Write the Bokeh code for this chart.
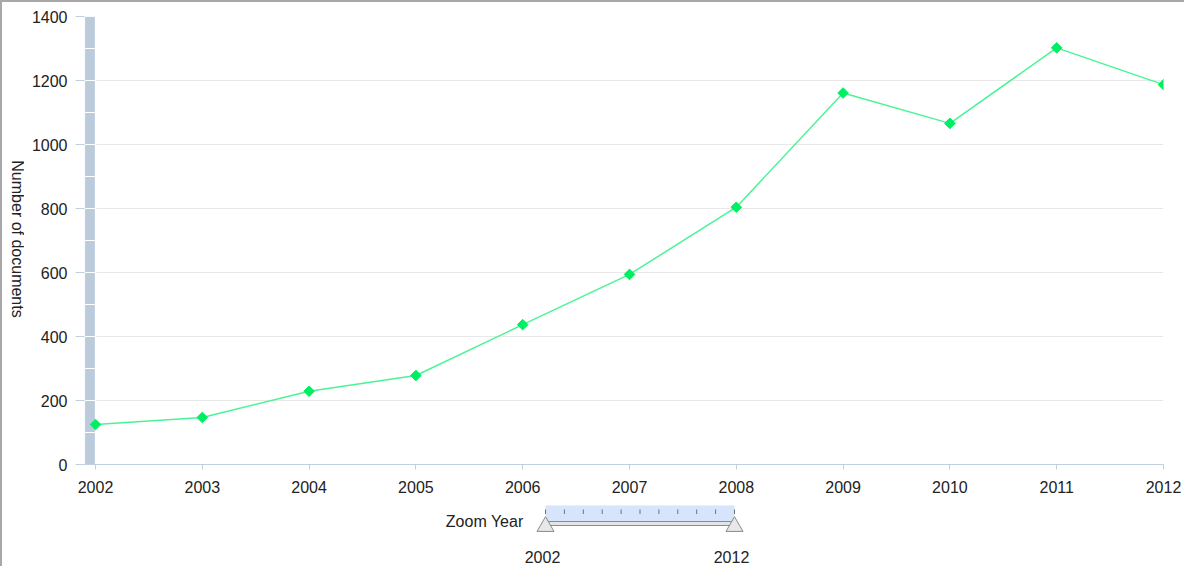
import math
import numpy as np
from bokeh.plotting import figure
from bokeh.layouts import column, row
from bokeh.models import Range1d, FixedTicker, ColumnDataSource
from bokeh.core.properties import value
from bokeh.embed import file_html
from bokeh.resources import INLINE

# ---- data ----
YEARS = [2002, 2003, 2004, 2005, 2006, 2007, 2008, 2009, 2010, 2011, 2012]
DOCS = [125, 147, 229, 278, 437, 594, 804, 1161, 1066, 1302, 1187]
Y_TICKS = [0, 200, 400, 600, 800, 1000, 1200, 1400]
Y_LABEL = "Number of documents"
SLIDER_TITLE = "Zoom Year"
SLIDER_RANGE = [2002, 2012]

FONT = "Liberation Sans"
TXT = "#222222"

W, H = 1184, 566
LW = 24                      # width of the strip holding the y-axis title
FRAME_L, FRAME_R, FRAME_T, FRAME_B = 84, 1163, 16, 464
MAIN_H = 500

# ---- y-axis title strip ----
lf = figure(width=LW, height=MAIN_H, output_backend="svg", toolbar_location=None,
            x_range=Range1d(0, LW), y_range=Range1d(MAIN_H - FRAME_B, MAIN_H - FRAME_T),
            x_axis_location=None, y_axis_location=None,
            min_border_left=0, min_border_right=0,
            min_border_top=FRAME_T, min_border_bottom=MAIN_H - FRAME_B)
lf.outline_line_color = None
lf.grid.visible = False
lf.background_fill_color = None
lf.border_fill_color = None
lf.text(x=[16.5], y=[MAIN_H - 238.5], text=[Y_LABEL], angle=-math.pi / 2,
        text_align="center", text_baseline="middle",
        text_font=value(FONT), text_font_size="16px", text_color=TXT)

# ---- main chart ----
PPX = (FRAME_R - 95) / (YEARS[-1] - YEARS[0])
X_START = YEARS[0] - (95 - FRAME_L) / PPX
p = figure(width=W - LW, height=MAIN_H, output_backend="svg", toolbar_location=None,
           x_range=Range1d(X_START, YEARS[-1]), y_range=Range1d(0, 1400),
           min_border_left=FRAME_L - LW, min_border_right=W - FRAME_R,
           min_border_top=FRAME_T, min_border_bottom=MAIN_H - FRAME_B)
p.outline_line_color = None
p.background_fill_color = "white"
p.border_fill_color = None
p.xgrid.visible = False
p.ygrid.ticker = FixedTicker(ticks=Y_TICKS)
p.ygrid.grid_line_color = "#e8e8e8"

p.yaxis.ticker = FixedTicker(ticks=Y_TICKS)
p.yaxis.axis_line_color = None
p.yaxis.major_tick_line_color = "#c0d0e0"
p.yaxis.major_tick_out = 9
p.yaxis.major_tick_in = 0
p.yaxis.minor_tick_line_color = None
p.yaxis.major_label_standoff = 8
p.yaxis.major_label_text_font = FONT
p.yaxis.major_label_text_font_size = "16px"
p.yaxis.major_label_text_color = TXT

p.xaxis.ticker = FixedTicker(ticks=YEARS)
p.xaxis.axis_line_color = "#c0d0e0"
p.xaxis.major_tick_line_color = "#c0d0e0"
p.xaxis.major_tick_out = 5
p.xaxis.major_tick_in = 0
p.xaxis.minor_tick_line_color = None
p.xaxis.major_label_standoff = 11
p.xaxis.major_label_text_font = FONT
p.xaxis.major_label_text_font_size = "16px"
p.xaxis.major_label_text_color = TXT

# vertical scroll bar decoration on the left
seg = np.arange(0, 1400, 100)
p.quad(left=X_START, right=YEARS[0], bottom=seg, top=seg + 100,
       fill_color="#bccbdc", line_color="white", line_width=1.2)

src = ColumnDataSource(dict(x=YEARS, y=DOCS))
p.line("x", "y", source=src, line_color="#4af495", line_width=1.5)
p.scatter("x", "y", source=src, marker="square", angle=math.pi / 4, size=7.5,
          fill_color="#00ef62", line_color="#00ef62")

# ---- range slider (frame aligned with the main frame) ----
SL_H = H - MAIN_H
PPY = (734 - 545) / (SLIDER_RANGE[1] - SLIDER_RANGE[0])
S0 = SLIDER_RANGE[0] - (545 - FRAME_L) / PPY
p2 = figure(width=W - LW, height=SL_H, output_backend="svg", toolbar_location=None,
            x_range=Range1d(S0, S0 + (FRAME_R - FRAME_L) / PPY), y_range=Range1d(SL_H, 0),
            x_axis_location=None, y_axis_location=None,
            min_border_left=FRAME_L - LW, min_border_right=W - FRAME_R,
            min_border_top=0, min_border_bottom=0)
p2.outline_line_color = None
p2.grid.visible = False
p2.background_fill_color = None
p2.border_fill_color = None

p2.quad(left=SLIDER_RANGE[0], right=SLIDER_RANGE[1], top=5, bottom=21.5,
        fill_color="#d6e4fc", line_color=None)
p2.segment(x0=YEARS, x1=YEARS, y0=9, y1=13.5, line_color="#707070", line_width=1)
p2.quad(left=SLIDER_RANGE[0], right=SLIDER_RANGE[1], top=21, bottom=25,
        fill_color="#e4e4e4", line_color="#8c8c8c", line_width=1)
p2.scatter(x=SLIDER_RANGE, y=[26, 26], marker="triangle", size=17,
           fill_color="#e8e8e8", line_color="#8a8a8a", line_width=1)
p2.text(x=[SLIDER_RANGE[0]], y=[21], text=[SLIDER_TITLE], x_offset=-22,
        text_align="right", text_baseline="middle",
        text_font=value(FONT), text_font_size="16px", text_color=TXT)
p2.text(x=SLIDER_RANGE, y=[56, 56], text=[str(v) for v in SLIDER_RANGE], x_offset=-3,
        text_align="center", text_baseline="middle",
        text_font=value(FONT), text_font_size="16px", text_color=TXT)

layout = row(lf, column(p, p2, spacing=0), spacing=0,
             styles={"background-color": "white",
                     "box-shadow": "inset 2px 2px 0 #a8a8a8"})
open("out.html", "w").write(file_html(layout, INLINE))
